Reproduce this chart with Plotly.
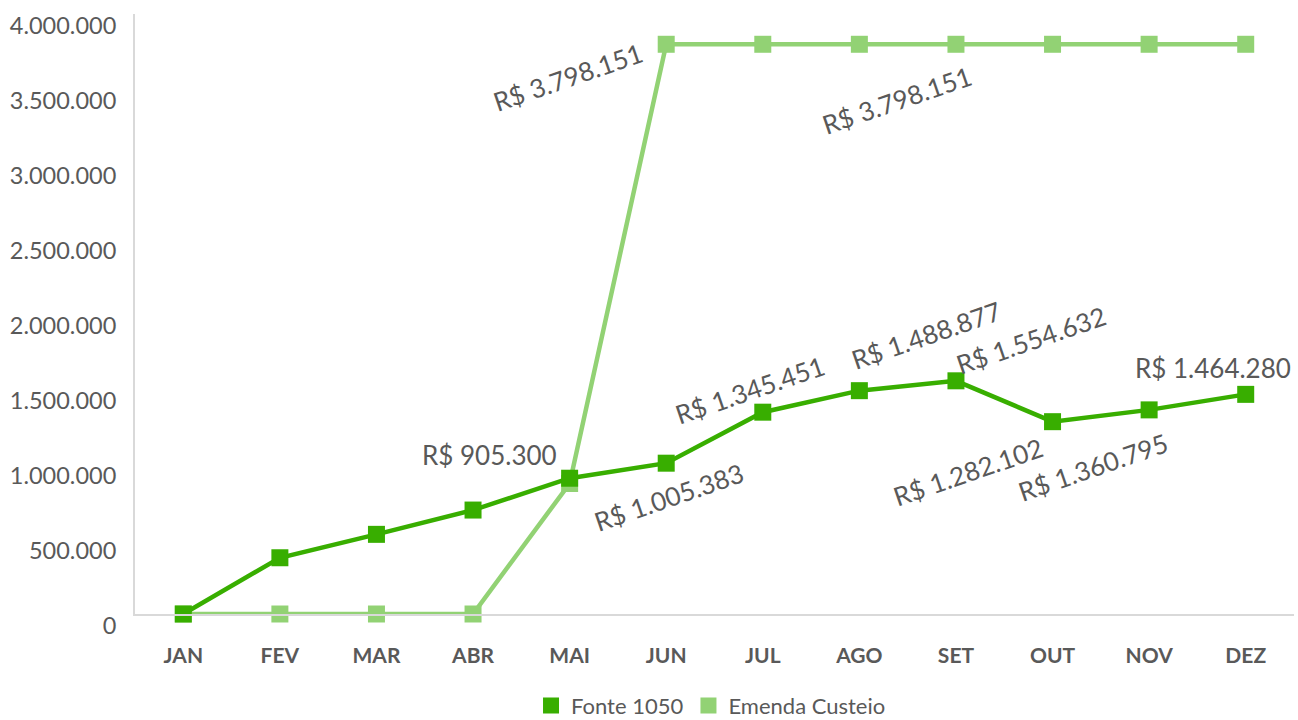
import plotly.graph_objects as go

meses = ["JAN", "FEV", "MAR", "ABR", "MAI", "JUN", "JUL", "AGO", "SET", "OUT", "NOV", "DEZ"]

# valores
fonte_1050 = [0, 375000, 531000, 693000, 905300, 1005383, 1345451, 1488877, 1554632, 1282102, 1360795, 1464280]
emenda_custeio = [0, 0, 0, 0, 870000, 3798151, 3798151, 3798151, 3798151, 3798151, 3798151, 3798151]

y_ticks = [0, 500000, 1000000, 1500000, 2000000, 2500000, 3000000, 3500000, 4000000]
y_tick_labels = ["0", "500.000", "1.000.000", "1.500.000", "2.000.000", "2.500.000",
                 "3.000.000", "3.500.000", "4.000.000"]

# rotulos de dados
rotulos_fonte = {"MAI": "R$ 905.300", "JUN": "R$ 1.005.383", "JUL": "R$ 1.345.451",
                 "AGO": "R$ 1.488.877", "SET": "R$ 1.554.632", "OUT": "R$ 1.282.102",
                 "NOV": "R$ 1.360.795", "DEZ": "R$ 1.464.280"}
rotulos_emenda = {"JUN": "R$ 3.798.151", "AGO": "R$ 3.798.151"}

COR_FONTE = "#38AE00"
COR_EMENDA = "#92D274"
COR_TEXTO = "#595959"
FONTE = "Lato, 'Open Sans', sans-serif"

fig = go.Figure()

fig.add_trace(go.Scatter(x=meses, y=emenda_custeio, mode="lines+markers",
                         line=dict(color=COR_EMENDA, width=4.5),
                         marker=dict(symbol="square", size=17, color=COR_EMENDA),
                         showlegend=False, cliponaxis=False))
fig.add_trace(go.Scatter(x=meses, y=fonte_1050, mode="lines+markers",
                         line=dict(color=COR_FONTE, width=4.5),
                         marker=dict(symbol="square", size=17, color=COR_FONTE),
                         showlegend=False, cliponaxis=False))

# entradas da legenda (so o quadrado)
fig.add_trace(go.Scatter(x=[None], y=[None], mode="markers", name="Fonte 1050",
                         marker=dict(symbol="square", size=16, color=COR_FONTE)))
fig.add_trace(go.Scatter(x=[None], y=[None], mode="markers", name="Emenda Custeio",
                         marker=dict(symbol="square", size=16, color=COR_EMENDA)))

# deslocamentos dos rotulos (px) e angulo
desloc_fonte = {"MAI": (-80, 23, 0), "JUN": (3, -34, -19), "JUL": (-13, 22, -19),
                "AGO": (67, 56, -19), "SET": (75, 41, -19), "OUT": (-85, -50, -19),
                "NOV": (-56, -57, -19), "DEZ": (-33, 26, 0)}
desloc_emenda = {"JUN": (-98, -33, -19), "AGO": (38, -56, -19)}

for mes, txt in rotulos_fonte.items():
    dx, dy, ang = desloc_fonte[mes]
    fig.add_annotation(x=mes, y=fonte_1050[meses.index(mes)], text=txt, showarrow=False,
                       xshift=dx, yshift=dy, textangle=ang,
                       font=dict(size=26, color=COR_TEXTO, family=FONTE))
for mes, txt in rotulos_emenda.items():
    dx, dy, ang = desloc_emenda[mes]
    fig.add_annotation(x=mes, y=emenda_custeio[meses.index(mes)], text=txt, showarrow=False,
                       xshift=dx, yshift=dy, textangle=ang,
                       font=dict(size=26, color=COR_TEXTO, family=FONTE))

fig.update_layout(
    width=1298, height=720,
    margin=dict(l=135, r=4, t=14, b=106, autoexpand=False),
    plot_bgcolor="white", paper_bgcolor="white",
    font=dict(family=FONTE, color=COR_TEXTO),
    legend=dict(orientation="h", x=0.497, xanchor="center", y=-0.118, yanchor="top",
                font=dict(size=22, color=COR_TEXTO), itemwidth=30, tracegroupgap=0),
)
fig.update_xaxes(range=[-0.5, 11.5], showgrid=False, showline=True, linecolor="#D9D9D9", linewidth=2,
                 ticks="", automargin=False,
                 tickfont=dict(size=21, color=COR_TEXTO, family=FONTE, weight="bold"),
                 ticklabelstandoff=22)
fig.update_yaxes(range=[0, 4000000], tickvals=y_ticks, ticktext=y_tick_labels,
                 showgrid=False, zeroline=False, showline=True, linecolor="#D9D9D9", linewidth=2,
                 ticks="", automargin=False, tickfont=dict(size=23.5, color=COR_TEXTO),
                 ticklabelshift=12, ticklabelstandoff=12)

fig.write_html("out.html", config={"displayModeBar": False},
               post_script="document.body.style.margin='0';document.body.style.overflow='hidden';")
